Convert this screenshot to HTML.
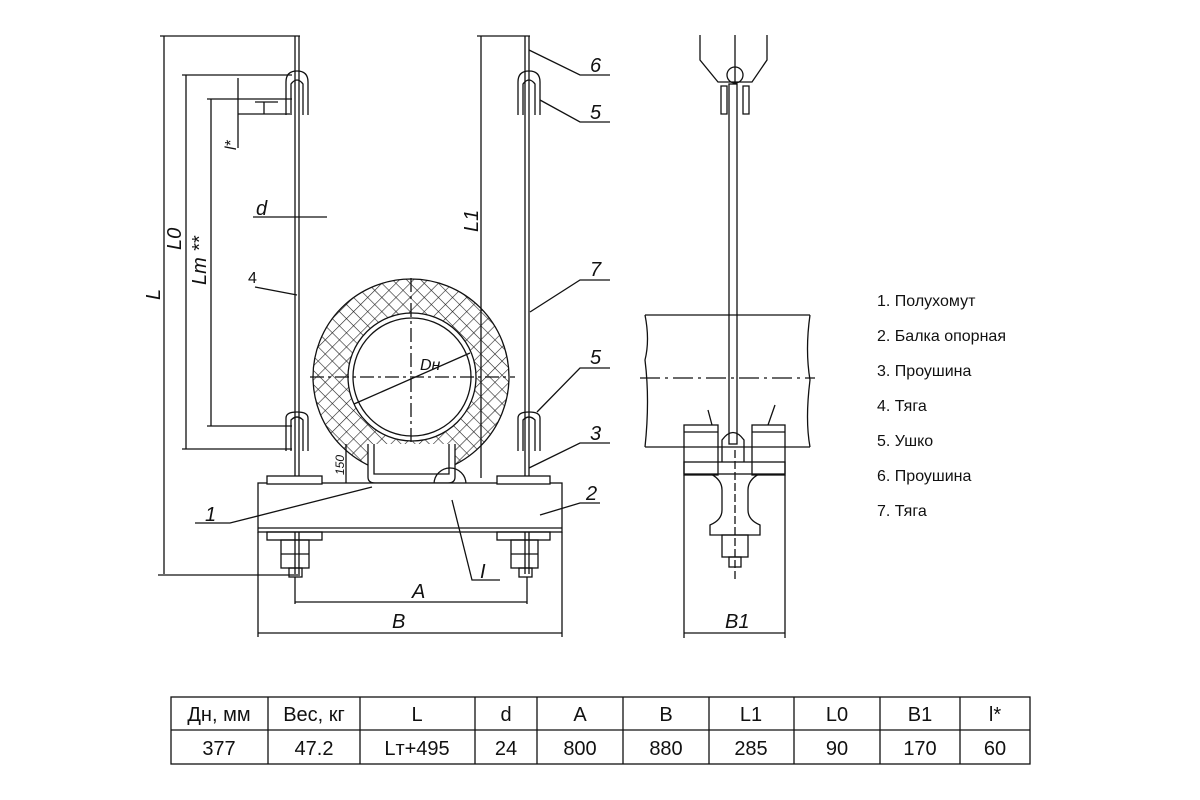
<!DOCTYPE html>
<html><head><meta charset="utf-8"><style>
html,body{margin:0;padding:0;background:#fff;}
svg{display:block;}
.t{font-family:"Liberation Sans","Noto Sans CJK SC",sans-serif;}
.it{font-family:"Liberation Sans",sans-serif;font-style:italic;}
</style></head><body>
<svg width="1200" height="800" viewBox="0 0 1200 800" xmlns="http://www.w3.org/2000/svg">
<defs>
<pattern id="h" width="10" height="10" patternUnits="userSpaceOnUse" patternTransform="rotate(45)">
<line x1="0" y1="0" x2="0" y2="10" stroke="#222" stroke-width="1.2"/>
<line x1="0" y1="0" x2="10" y2="0" stroke="#222" stroke-width="1.2"/>
</pattern>
</defs>
<g stroke="#111" fill="none" stroke-width="1.3">
<!-- L dims -->
<line x1="164" y1="36" x2="164" y2="574"/>
<line x1="160" y1="36" x2="300" y2="36"/>
<line x1="158" y1="575" x2="300" y2="575"/>
<line x1="186" y1="75" x2="186" y2="449"/>
<line x1="182" y1="75" x2="292" y2="75"/>
<line x1="182" y1="449" x2="292" y2="449"/>
<line x1="211" y1="99" x2="211" y2="426"/>
<line x1="207" y1="99" x2="292" y2="99"/>
<line x1="207" y1="426" x2="292" y2="426"/>
<line x1="238" y1="78" x2="238" y2="148"/>
<line x1="255" y1="102" x2="278" y2="102"/><line x1="264" y1="102" x2="264" y2="114"/><line x1="238" y1="114" x2="290" y2="114"/>
<line x1="253" y1="217" x2="327" y2="217"/>
<line x1="255" y1="287" x2="297" y2="295"/>
<!-- left rod -->
<line x1="295" y1="36" x2="295" y2="574"/><line x1="299" y1="36" x2="299" y2="574"/>
<!-- clevises -->
<path d="M286 115 V82 Q286 71 297 71 Q308 71 308 82 V115"/>
<path d="M291 115 V84 Q297 76 303 84 V115"/>
<path d="M286 451 V418 Q286 412 297 412 Q308 412 308 418 V451"/>
<path d="M291 451 V420 Q297 414 303 420 V451"/>
<path d="M518 115 V82 Q518 71 529 71 Q540 71 540 82 V115"/>
<path d="M523 115 V84 Q529 76 535 84 V115"/>
<path d="M518 451 V418 Q518 412 529 412 Q540 412 540 418 V451"/>
<path d="M523 451 V420 Q529 414 535 420 V451"/>
<!-- right rod -->
<line x1="525" y1="36" x2="525" y2="574"/><line x1="529" y1="36" x2="529" y2="574"/>
<line x1="481" y1="36" x2="481" y2="478"/><line x1="477" y1="36" x2="530" y2="36"/>
<!-- pipe -->
<circle cx="411" cy="377" r="98" fill="url(#h)"/>
<circle cx="412" cy="377" r="64" fill="#fff"/>
<circle cx="412" cy="377" r="59"/>
<line x1="310" y1="377" x2="515" y2="377" stroke-dasharray="14 4 3 4"/>
<line x1="411" y1="278" x2="411" y2="505" stroke-dasharray="14 4 3 4"/>
<line x1="354" y1="404" x2="470" y2="353"/>
<!-- saddle -->
<path d="M368 444 V477 Q368 483 375 483 H448 Q455 483 455 477 V444" fill="#fff"/>
<path d="M374 444 V474 H449 V444"/>
<line x1="346" y1="444" x2="346" y2="483"/>
<circle cx="450" cy="484" r="16"/>
<!-- beam -->
<rect x="258" y="483" width="304" height="49" fill="#fff"/>
<line x1="258" y1="528" x2="562" y2="528"/>
<rect x="267" y="476" width="55" height="8" fill="#fff"/>
<rect x="497" y="476" width="53" height="8" fill="#fff"/>
<rect x="267" y="532" width="55" height="8"/>
<rect x="497" y="532" width="53" height="8"/>
<rect x="281" y="540" width="28" height="28"/><line x1="281" y1="554" x2="309" y2="554"/>
<rect x="511" y="540" width="27" height="28"/><line x1="511" y1="554" x2="538" y2="554"/>
<rect x="289" y="568" width="13" height="9"/>
<rect x="519" y="568" width="13" height="9"/>
<!-- A B -->
<line x1="295" y1="577" x2="295" y2="604"/><line x1="527" y1="577" x2="527" y2="604"/>
<line x1="295" y1="602" x2="527" y2="602"/>
<line x1="258" y1="532" x2="258" y2="637"/><line x1="562" y1="532" x2="562" y2="637"/>
<line x1="258" y1="633" x2="562" y2="633"/>
<!-- leaders -->
<path d="M529 50 L580 75 H610"/>
<path d="M540 100 L580 122 H610"/>
<path d="M530 312 L580 280 H610"/>
<path d="M537 412 L580 368 H610"/>
<path d="M529 468 L580 443 H610"/>
<path d="M540 515 L580 503 H600"/>
<path d="M195 523 H230 L372 487"/>
<path d="M452 500 L472 580 H500"/>
<!-- right view -->
<path d="M700 35 V60 L718 82 H752 L767 60 V35"/>
<line x1="735" y1="35" x2="735" y2="82"/>
<circle cx="735" cy="75" r="8"/>
<path d="M721 114 V86 H727 V114 Z"/><path d="M743 114 V86 H749 V114 Z"/>
<rect x="729" y="84" width="8" height="360"/>
<path d="M645 315 H810 M645 447 H810 M645 315 Q650 340 645 360 Q650 400 645 447 M810 315 Q805 350 810 380 Q805 420 810 447"/>
<line x1="640" y1="378" x2="815" y2="378" stroke-dasharray="20 5 3 5"/>
<rect x="684" y="425" width="34" height="50"/><rect x="752" y="425" width="33" height="50"/>
<line x1="684" y1="432" x2="718" y2="432"/><line x1="752" y1="432" x2="785" y2="432"/>
<path d="M722 462 V440 Q733 425 744 440 V462"/>
<rect x="684" y="462" width="101" height="12"/>
<path d="M711 474 Q722 480 722 490 V510 Q722 520 710 525 V535 H760 V525 Q748 520 748 510 V490 Q748 480 759 474"/>
<rect x="722" y="535" width="26" height="22"/>
<rect x="729" y="557" width="12" height="10"/>
<line x1="735" y1="450" x2="735" y2="580" stroke-dasharray="8 3"/>
<line x1="684" y1="475" x2="684" y2="638"/><line x1="785" y1="475" x2="785" y2="638"/>
<line x1="684" y1="633" x2="785" y2="633"/>
<path d="M708 410 L712 425 M775 405 L768 425"/>
<!-- table -->
<rect x="171" y="697" width="859" height="67"/>
<line x1="171" y1="730" x2="1030" y2="730"/>
<line x1="268" y1="697" x2="268" y2="764"/><line x1="360" y1="697" x2="360" y2="764"/>
<line x1="475" y1="697" x2="475" y2="764"/><line x1="537" y1="697" x2="537" y2="764"/>
<line x1="623" y1="697" x2="623" y2="764"/><line x1="709" y1="697" x2="709" y2="764"/>
<line x1="794" y1="697" x2="794" y2="764"/><line x1="880" y1="697" x2="880" y2="764"/>
<line x1="960" y1="697" x2="960" y2="764"/>
</g>
<g class="it" font-size="20" fill="#111">
<text x="256" y="215">d</text>
<text x="181" y="250" transform="rotate(-90 181 250)">L0</text>
<text x="206" y="285" transform="rotate(-90 206 285)">Lт **</text>
<text x="160" y="300" transform="rotate(-90 160 300)">L</text>
<text x="236" y="150" font-size="16" transform="rotate(-90 236 150)">l*</text>
<text x="478" y="232" transform="rotate(-90 478 232)">L1</text>
<text x="420" y="370" font-size="16">Dн</text>
<text x="344" y="475" font-size="12" transform="rotate(-90 344 475)">150</text>
<text x="412" y="598">A</text>
<text x="392" y="628">B</text>
<text x="725" y="628">B1</text>
<text x="590" y="72">6</text><text x="590" y="119">5</text>
<text x="590" y="276">7</text><text x="590" y="364">5</text>
<text x="590" y="440">3</text><text x="586" y="500">2</text>
<text x="205" y="521">1</text><text x="480" y="578">I</text>
</g>
<text class="t" x="248" y="283" font-size="16" fill="#111">4</text>
<g class="t" font-size="16" fill="#111">
<text x="877" y="306">1. Полухомут</text>
<text x="877" y="341">2. Балка опорная</text>
<text x="877" y="376">3. Проушина</text>
<text x="877" y="411">4. Тяга</text>
<text x="877" y="446">5. Ушко</text>
<text x="877" y="481">6.  Проушина</text>
<text x="877" y="516">7.  Тяга</text>
</g>
<g class="t" font-size="20" fill="#111" text-anchor="middle">
<text x="219" y="721">Дн, мм</text><text x="314" y="721">Вес, кг</text><text x="417" y="721">L</text>
<text x="506" y="721">d</text><text x="580" y="721">A</text><text x="666" y="721">B</text>
<text x="751" y="721">L1</text><text x="837" y="721">L0</text><text x="920" y="721">B1</text><text x="995" y="721">l*</text>
<text x="219" y="755">377</text><text x="314" y="755">47.2</text><text x="417" y="755">Lт+495</text>
<text x="506" y="755">24</text><text x="580" y="755">800</text><text x="666" y="755">880</text>
<text x="751" y="755">285</text><text x="837" y="755">90</text><text x="920" y="755">170</text><text x="995" y="755">60</text>
</g>
</svg>
</body></html>
